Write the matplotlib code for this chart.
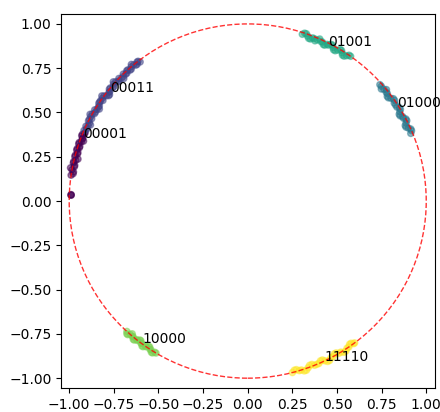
import numpy as np
import matplotlib
matplotlib.use("Agg")
import matplotlib.pyplot as plt

labels = ["00001", "00011", "01000", "01001", "10000", "11110"]

ang_00001 = [178.0, 178.1, 177.9, 171.6, 171.0, 170.4, 169.8, 169.3, 168.7, 168.2, 167.6, 167.1, 166.5, 166.0, 165.5, 165.0,
             164.4, 163.9, 163.3, 162.8, 162.3, 161.8, 161.2, 160.7, 160.2, 159.8, 159.3, 158.9, 158.4, 157.9, 157.4, 157.0]
rad_00001 = [0.99, 0.99, 0.99, 1.00, 0.99, 0.99, 1.00, 1.01, 0.99, 0.99, 1.00, 1.00, 0.99, 0.98, 1.00, 1.00,
             0.99, 0.99, 1.00, 1.00, 0.99, 0.99, 1.00, 1.00, 0.99, 0.98, 0.99, 0.99, 1.00, 1.00, 0.99, 0.99]

ang_00011 = [156.5, 156.0, 155.5, 155.0, 154.5, 154.0, 153.6, 153.1, 152.5, 152.0, 151.5, 151.0, 150.6, 150.1,
             149.5, 149.0, 148.5, 148.0, 147.6, 147.1, 146.5, 146.0, 145.5, 145.0, 144.5, 144.0, 143.6, 143.1,
             142.6, 142.2, 141.7, 141.3, 140.8, 140.3, 139.7, 139.2, 138.7, 138.2, 137.7, 137.2, 136.7, 136.2,
             135.6, 135.1, 134.7, 134.2, 133.6, 133.1, 132.7, 132.2, 131.7, 131.2, 130.7, 130.2, 129.7, 129.2,
             128.7, 128.3, 127.9, 127.5]
rad_00011 = [1.00, 0.99, 0.99, 1.00, 0.99, 0.98, 0.99, 1.00, 1.00, 0.99, 1.00, 1.01, 1.00, 0.99,
             0.99, 1.00, 0.99, 0.98, 0.99, 0.99, 1.00, 1.00, 1.00, 0.99, 1.00, 1.01, 1.00, 0.99,
             0.98, 0.98, 0.99, 0.99, 1.00, 1.00, 0.99, 0.99, 1.00, 1.01, 1.00, 0.99, 0.99, 1.00,
             0.99, 0.98, 0.99, 1.00, 0.99, 0.99, 1.00, 1.00, 0.99, 0.99, 1.00, 1.01, 1.00, 0.99,
             0.99, 1.00, 1.00, 0.99]

ang_01000 = [41.6, 40.9, 40.2, 39.6, 39.0, 38.4, 37.8, 37.1, 36.5, 35.9, 35.3, 34.6, 34.0, 33.2, 32.4, 31.8,
             31.2, 30.6, 30.0, 29.4, 28.8, 28.2, 27.6, 27.0, 26.4, 25.8, 25.2, 24.6, 24.0, 23.4, 22.7]
rad_01000 = [0.99, 0.99, 0.98, 0.99, 1.00, 0.99, 0.99, 0.98, 0.98, 0.99, 1.00, 1.00, 0.99, 0.99, 0.99, 1.00,
             1.00, 0.99, 0.98, 0.98, 0.99, 0.99, 1.00, 1.00, 0.99, 0.98, 0.98, 0.99, 1.00, 1.00, 0.99]

ang_01001 = [72.0, 71.4, 70.8, 70.2, 69.6, 69.0, 68.5, 67.9, 67.4, 66.8, 66.2, 65.6, 65.0, 64.4, 63.9, 63.3,
             62.8, 62.2, 61.7, 61.1, 60.6, 60.0, 59.4, 58.8, 58.3, 57.7, 57.2, 56.6, 56.0, 55.4, 54.8]
rad_01001 = [0.99, 1.00, 1.00, 0.99, 0.98, 0.98, 0.99, 0.99, 0.98, 0.99, 1.00, 0.99, 0.99, 0.98, 0.98, 0.99,
             0.99, 1.00, 1.00, 0.99, 0.98, 0.98, 0.99, 1.00, 1.00, 0.99, 0.98, 0.98, 0.99, 1.00, 1.00]

ang_10000 = [-132.6, -132.1, -131.7, -131.2, -130.8, -130.3, -129.9, -129.4, -129.0, -128.5, -128.1, -127.6,
             -127.2, -126.8, -126.4, -125.9, -125.5, -125.0, -124.6, -124.1, -123.7, -123.2, -122.8, -122.3,
             -121.9, -121.4, -120.9]
rad_10000 = [1.00, 1.01, 1.01, 1.00, 0.99, 1.00, 1.00, 1.01, 1.01, 1.00, 1.00, 0.99,
             0.99, 1.00, 1.00, 1.01, 1.01, 1.00, 1.00, 0.99, 0.99, 1.00, 1.00, 1.01, 1.01, 1.00, 1.00]

ang_11110 = [-75.5, -74.7, -74.0, -73.2, -72.5, -71.7, -71.0, -70.2, -69.5, -68.7, -68.0, -67.2, -66.5,
             -65.7, -65.0, -64.4, -63.7, -63.0, -62.2, -61.5, -60.7, -60.0, -59.2, -58.5, -57.7, -57.0,
             -56.2, -55.5, -54.8, -54.2, -53.6, -53.2]
rad_11110 = [1.00, 0.99, 0.99, 1.00, 1.00, 1.01, 1.01, 1.00, 0.99, 0.99, 1.00, 1.00, 1.00,
             0.99, 0.99, 1.00, 1.01, 1.01, 1.00, 1.00, 0.99, 0.99, 1.00, 1.00, 1.01, 1.01,
             1.00, 1.00, 0.99, 0.99, 1.00, 1.00]

label_ang = [158.9, 141.3, 32.4, 62.8, -126.4, -64.4]
label_rad = [0.986, 0.986, 0.992, 0.985, 0.996, 1.0]

groups = [(ang_00001, rad_00001), (ang_00011, rad_00011), (ang_01000, rad_01000),
          (ang_01001, rad_01001), (ang_10000, rad_10000), (ang_11110, rad_11110)]

xs, ys, cs = [], [], []
for i, (a, r) in enumerate(groups):
    a = np.radians(np.array(a))
    r = np.array(r)
    xs.extend(r * np.cos(a))
    ys.extend(r * np.sin(a))
    cs.extend([i] * len(a))

fig = plt.figure(figsize=(4.4, 4.12), dpi=100)
ax = fig.add_axes([0.139, 0.058, 0.850, 0.908])
ax.scatter(xs, ys, c=cs, cmap="viridis", vmin=0, vmax=len(labels) - 1, s=20, alpha=0.5)
circle = plt.Circle((0, 0), 1, color="red", fill=False, linestyle="--", alpha=0.8)
ax.add_patch(circle)
for lab, a, r in zip(labels, label_ang, label_rad):
    t = np.radians(a)
    ax.text(r * np.cos(t), r * np.sin(t), lab, fontsize=10)

ax.set_xlim(-1.045, 1.05)
ax.set_ylim(-1.056, 1.056)
ticks = [-1.0, -0.75, -0.5, -0.25, 0.0, 0.25, 0.5, 0.75, 1.0]
ax.set_xticks(ticks)
ax.set_yticks(ticks)
ax.set_xticklabels([f"{t:.2f}".replace("-", "\u2212") for t in ticks])
ax.set_yticklabels([f"{t:.2f}".replace("-", "\u2212") for t in ticks])
fig.savefig("out.png", dpi=100)
